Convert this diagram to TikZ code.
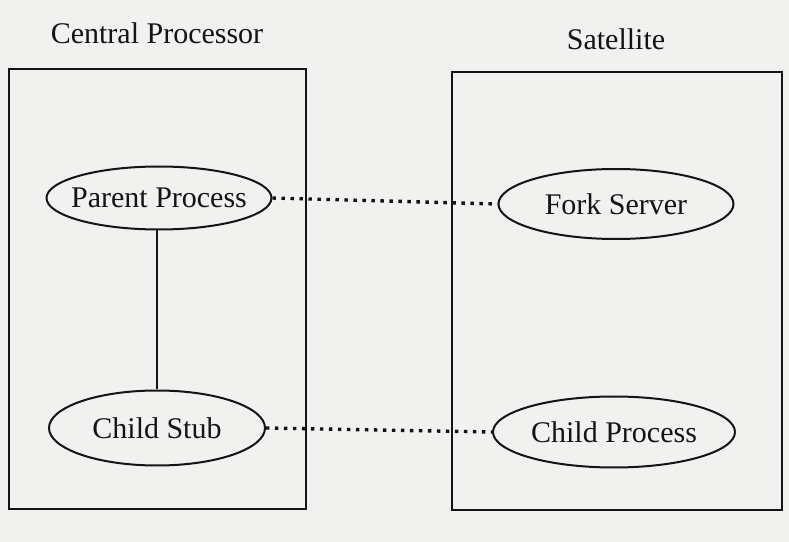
\documentclass[tikz,border=0pt]{standalone}
\usepackage{fontspec}
\setmainfont{Liberation Serif}
\usetikzlibrary{shapes.geometric}
\definecolor{paper}{HTML}{F1F1EF}
\definecolor{inkblk}{HTML}{141414}
\newcommand{\proclbl}[1]{\makebox[0pt]{#1}}

\begin{document}
\begin{tikzpicture}[
  x=0.5pt, y=0.5pt,
  machine/.style={draw=inkblk, line width=1.3pt},
  proc/.style={draw=inkblk, ellipse, line width=1pt, inner sep=0pt,
    font=\fontsize{15}{18}\selectfont, text=inkblk},
  heading/.style={font=\fontsize{15}{18}\selectfont, text=inkblk},
  link/.style={draw=inkblk, line width=1.1pt},
  remote/.style={draw=inkblk, line width=1.7pt, dash pattern=on 1.7pt off 2.8pt},
]

% Background
\fill[paper] (0,0) rectangle (789,542);
\useasboundingbox (0,0) rectangle (789,542);

% =============================================
% Machines
% =============================================

\draw[machine] (9,473) rectangle (306,33);
\draw[machine] (452,470) rectangle (782,32);

\node[heading] (cpuhead) at (157,509) {Central Processor};
\node[heading] (sathead) at (616,503) {Satellite};

% =============================================
% Processes
% =============================================

\node[proc, minimum width=112.5pt, minimum height=31.5pt] (parent) at (159,344)
  {\proclbl{Parent Process}};
\node[proc, minimum width=108pt, minimum height=37.5pt] (stub) at (157,114)
  {\proclbl{Child Stub}};

\node[proc, minimum width=117.5pt, minimum height=35pt] (fork) at (616,338)
  {\proclbl{Fork Server}};
\node[proc, minimum width=121pt, minimum height=35.5pt] (child) at (614,110)
  {\proclbl{Child Process}};

% =============================================
% Connections
% =============================================

\draw[link] (stub.north |- parent.south) -- (stub.north);

\draw[remote] (parent.east) -- (fork.west);
\draw[remote] (stub.east) -- (child.west);

\end{tikzpicture}
\end{document}
